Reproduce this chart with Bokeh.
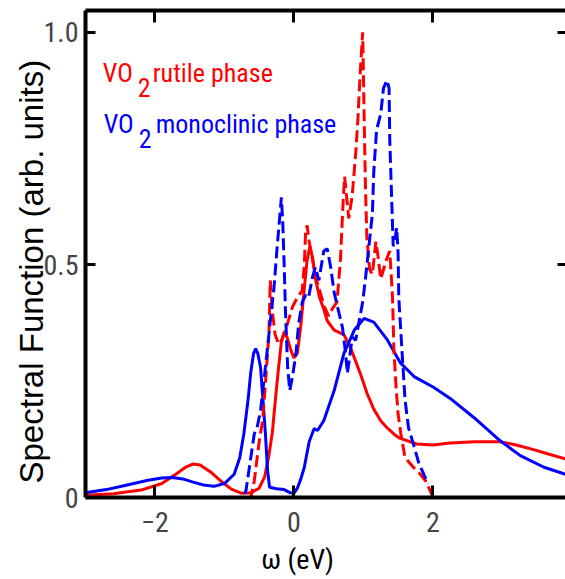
from bokeh.plotting import figure
from bokeh.models import Range1d, FixedTicker, LinearAxis, Label, Title
from bokeh.embed import file_html
from bokeh.resources import INLINE

# ---------------- data ----------------
rutile_x = [-3.0, -2.6, -2.2, -1.9, -1.7, -1.55, -1.45, -1.35, -1.2, -1.05, -0.9, -0.75, -0.62, -0.5,
            -0.42, -0.36, -0.31, -0.26, -0.22, -0.18, -0.14, -0.1, -0.05, 0.0, 0.05, 0.1, 0.15, 0.19,
            0.23, 0.27, 0.31, 0.37, 0.43, 0.48, 0.58, 0.72, 0.82, 0.96, 1.05, 1.15, 1.25, 1.34, 1.45,
            1.53, 1.77, 2.0, 2.25, 2.6, 2.97, 3.2, 3.45, 3.7, 3.91]
rutile_y = [0.005, 0.008, 0.016, 0.03, 0.05, 0.066, 0.072, 0.07, 0.055, 0.035, 0.018, 0.009, 0.01, 0.02,
            0.045, 0.09, 0.14, 0.22, 0.28, 0.335, 0.355, 0.345, 0.32, 0.30, 0.31, 0.37, 0.45, 0.51,
            0.54, 0.515, 0.47, 0.43, 0.405, 0.38, 0.36, 0.35, 0.32, 0.265, 0.225, 0.19, 0.165, 0.15, 0.135,
            0.127, 0.115, 0.113, 0.117, 0.12, 0.12, 0.113, 0.103, 0.092, 0.083]

mono_x = [-3.0, -2.7, -2.4, -2.1, -1.9, -1.75, -1.6, -1.45, -1.3, -1.15, -1.0, -0.86, -0.78, -0.72,
          -0.66, -0.62, -0.58, -0.55, -0.52, -0.48, -0.44, -0.41, -0.38, -0.35, -0.25, -0.14, -0.05,
          0.0, 0.05, 0.1, 0.15, 0.22, 0.29, 0.34, 0.43, 0.58, 0.72, 0.87, 1.01, 1.15, 1.34, 1.53,
          1.73, 2.01, 2.25, 2.59, 2.97, 3.26, 3.6, 3.91]
mono_y = [0.01, 0.017, 0.027, 0.037, 0.042, 0.043, 0.04, 0.033, 0.027, 0.024, 0.03, 0.05, 0.085, 0.137,
          0.21, 0.27, 0.31, 0.32, 0.31, 0.28, 0.2, 0.137, 0.06, 0.022, 0.019, 0.017, 0.01,
          0.009, 0.02, 0.04, 0.065, 0.12, 0.148, 0.144, 0.165, 0.23, 0.31, 0.36, 0.385, 0.377, 0.34, 0.29,
          0.26, 0.237, 0.213, 0.172, 0.122, 0.09, 0.065, 0.05]

rutile_d_x = [-1.4, -0.8, -0.62, -0.57, -0.5, -0.45, -0.41, -0.36, -0.34, -0.31, -0.27, -0.22, -0.17,
              -0.1, -0.02, 0.05, 0.12, 0.15, 0.17, 0.19, 0.22, 0.27, 0.32, 0.38, 0.44, 0.5, 0.55, 0.62,
              0.67, 0.71, 0.73, 0.77, 0.79, 0.84, 0.89, 0.92, 0.95, 0.99, 1.0, 1.01, 1.03, 1.05, 1.09,
              1.13, 1.18, 1.21, 1.25, 1.3, 1.34, 1.38, 1.4, 1.42, 1.44, 1.47, 1.5, 1.54, 1.6, 1.72,
              1.82, 1.9, 1.97, 2.0]
rutile_d_y = [0.0, 0.0, 0.0, 0.036, 0.12, 0.166, 0.245, 0.35, 0.467, 0.40, 0.35, 0.33, 0.34,
              0.37, 0.41, 0.43, 0.445, 0.5, 0.575, 0.585, 0.55, 0.51, 0.47, 0.44, 0.41, 0.39, 0.405, 0.42,
              0.51, 0.64, 0.69, 0.63, 0.60, 0.65, 0.74, 0.81, 0.9, 1.0, 0.92, 0.83, 0.67, 0.56, 0.49,
              0.48, 0.55, 0.52, 0.47, 0.495, 0.515, 0.53, 0.48, 0.43, 0.316, 0.24, 0.18, 0.137, 0.086, 0.065,
              0.05, 0.035, 0.012, 0.0]

mono_d_x = [-1.4, -0.8, -0.72, -0.69, -0.62, -0.57, -0.53, -0.48, -0.41, -0.36, -0.31, -0.29, -0.24,
            -0.2, -0.18, -0.16, -0.14, -0.12, -0.09, -0.06, -0.02, 0.03, 0.07, 0.12, 0.17, 0.21, 0.27,
            0.31, 0.36, 0.43, 0.48, 0.53, 0.58, 0.62, 0.70, 0.74, 0.77, 0.81, 0.84, 0.89, 0.94, 0.99,
            1.03, 1.08, 1.13, 1.15, 1.19, 1.25, 1.29, 1.34, 1.37, 1.38, 1.41, 1.43, 1.45, 1.48, 1.5,
            1.51, 1.55, 1.6, 1.65, 1.73, 1.8, 1.87, 1.93]
mono_d_y = [0.0, 0.0, 0.0, 0.015, 0.086, 0.137, 0.15, 0.187, 0.28, 0.35, 0.42, 0.445, 0.54,
            0.61, 0.645, 0.59, 0.50, 0.395, 0.28, 0.23, 0.26, 0.31, 0.375, 0.42, 0.435, 0.43, 0.475,
            0.495, 0.467, 0.53, 0.535, 0.495, 0.44, 0.415, 0.365, 0.316, 0.267, 0.31, 0.345, 0.338, 0.38, 0.42,
            0.47, 0.54, 0.61, 0.70, 0.79, 0.825, 0.88, 0.897, 0.88, 0.77, 0.63, 0.54, 0.55, 0.58, 0.525,
            0.43, 0.33, 0.21, 0.15, 0.11, 0.073, 0.05, 0.03]

x_ticks = [-2, 0, 2]
x_tick_labels = ["\u22122", "0", "2"]
y_ticks = [0, 0.5, 1.0]
y_tick_labels = ["0", "0.5", "1.0"]

RED = "#ff0000"
BLUE = "#0000ff"
COND = "Roboto Condensed"
REGULAR = "Liberation Sans"

p = figure(width=565, height=579, output_backend="svg", toolbar_location=None,
           x_range=Range1d(-3.0, 3.91), y_range=Range1d(0, 1.047),
           min_border_left=85, min_border_right=0, min_border_top=10, min_border_bottom=82)
p.outline_line_color = None
p.grid.visible = False
p.background_fill_color = "white"

p.line(rutile_x, rutile_y, line_color=RED, line_width=3)
p.line(mono_x, mono_y, line_color=BLUE, line_width=3)
p.line(rutile_d_x, rutile_d_y, line_color=RED, line_width=3, line_dash="12 5")
p.line(mono_d_x, mono_d_y, line_color=BLUE, line_width=3, line_dash="12 5")

def style_axis(ax, tick_len):
    ax.axis_line_width = 4
    ax.axis_line_color = "black"
    ax.major_tick_line_width = 3
    ax.major_tick_line_color = "black"
    ax.major_tick_in = tick_len
    ax.major_tick_out = 0
    ax.minor_tick_line_color = None

xa = p.xaxis[0]
xa.ticker = FixedTicker(ticks=x_ticks)
xa.major_label_overrides = {t: l for t, l in zip(x_ticks, x_tick_labels)}
style_axis(xa, 12)
xa.major_label_text_font = COND
xa.major_label_text_font_size = "28px"
xa.major_label_standoff = 14
# trailing em spaces shift the centred title to sit under ω = 0, as in the original
xa.axis_label = "\u03c9 (eV)\u2003\u2003\u00a0"
xa.axis_label_text_font = COND
xa.axis_label_text_font_size = "28px"
xa.axis_label_text_font_style = "normal"
xa.axis_label_text_color = "black"
xa.axis_label_standoff = 8

ya = p.yaxis[0]
ya.ticker = FixedTicker(ticks=y_ticks)
ya.major_label_overrides = {t: l for t, l in zip(y_ticks, y_tick_labels)}
style_axis(ya, 10)
ya.major_label_text_font = COND
ya.major_label_text_font_size = "28px"
ya.major_label_standoff = 7

top = LinearAxis(ticker=FixedTicker(ticks=x_ticks))
style_axis(top, 12)
top.major_label_text_font_size = "0px"
top.major_label_text_color = None
top.major_label_standoff = 0
p.add_layout(top, "above")

right = LinearAxis(ticker=FixedTicker(ticks=[0.5, 1.0]))
style_axis(right, 8)
right.axis_line_color = None
right.major_label_text_font_size = "0px"
right.major_label_text_color = None
right.major_label_standoff = 0
p.add_layout(right, "right")

p.add_layout(Title(text="Spectral Function (arb. units)", align="left", offset=14, standoff=-18,
                   text_font=REGULAR, text_font_size="33px", text_font_style="normal",
                   text_color="black"), "left")

def add_text(x, y, t, color):
    p.add_layout(Label(x=x, y=y, text=t, text_color=color, text_font=COND,
                       text_font_size="26px", text_baseline="alphabetic", text_align="left"))

add_text(-2.75, 0.913, "VO", RED)
add_text(-2.249, 0.881, "2", RED)
add_text(-2.033, 0.913, "rutile phase", RED)
add_text(-2.738, 0.804, "VO", BLUE)
add_text(-2.235, 0.772, "2", BLUE)
add_text(-1.99, 0.804, "monoclinic phase", BLUE)

open("out.html", "w").write(file_html(p, INLINE))
